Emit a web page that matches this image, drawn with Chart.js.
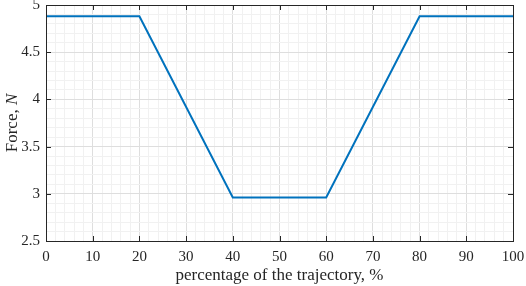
<!DOCTYPE html>
<html>
<head>
<meta charset="UTF-8">
<style>
  html, body { margin: 0; padding: 0; background: #fff; }
  #wrap { width: 526px; height: 286px; }
</style>
</head>
<body>
<div id="wrap"><canvas id="chart" width="526" height="286"></canvas></div>
<script src="https://cdn.jsdelivr.net/npm/chart.js"></script>
<script>
// data
const trajX = [0, 20, 40, 60, 80, 100];
const forceY = [4.88, 4.88, 2.96, 2.96, 4.88, 4.88];
const xTicks = [0, 10, 20, 30, 40, 50, 60, 70, 80, 90, 100];
const yTicks = [2.5, 3, 3.5, 4, 4.5, 5];

const FONT = '"Liberation Serif", "Times New Roman", serif';
const AXIS = '#262626';

function isMajor(v, step) {
  const r = v / step;
  return Math.abs(r - Math.round(r)) < 1e-6;
}

// box + inward ticks + y title with italic N
const matlabBox = {
  id: 'matlabBox',
  afterDraw(chart) {
    const c = chart.ctx, a = chart.chartArea;
    const xs = chart.scales.x, ys = chart.scales.y;
    c.save();
    c.strokeStyle = AXIS;
    c.lineWidth = 1;
    c.strokeRect(Math.round(a.left) + 0.5, Math.round(a.top) + 0.5,
      Math.round(a.right - a.left), Math.round(a.bottom - a.top));
    c.beginPath();
    xTicks.forEach(v => {
      const px = Math.round(xs.getPixelForValue(v)) + 0.5;
      c.moveTo(px, a.bottom); c.lineTo(px, a.bottom - 5);
      c.moveTo(px, a.top); c.lineTo(px, a.top + 5);
    });
    yTicks.forEach(v => {
      const py = Math.round(ys.getPixelForValue(v)) + 0.5;
      c.moveTo(a.left, py); c.lineTo(a.left + 5, py);
      c.moveTo(a.right, py); c.lineTo(a.right - 5, py);
    });
    c.stroke();

    // y axis title
    c.translate(13, (a.top + a.bottom) / 2);
    c.rotate(-Math.PI / 2);
    c.fillStyle = AXIS;
    c.textBaseline = 'middle';
    const p1 = 'Force, ';
    c.font = '17px ' + FONT;
    const w1 = c.measureText(p1).width;
    c.font = 'italic 17px ' + FONT;
    const w2 = c.measureText('N').width;
    let x0 = -(w1 + w2) / 2;
    c.textAlign = 'left';
    c.font = '17px ' + FONT;
    c.fillText(p1, x0, 0);
    c.font = 'italic 17px ' + FONT;
    c.fillText('N', x0 + w1, 0);
    c.restore();
  }
};

new Chart(document.getElementById('chart'), {
  type: 'line',
  data: {
    datasets: [{
      data: trajX.map((x, i) => ({ x: x, y: forceY[i] })),
      borderColor: '#0072BD',
      borderWidth: 2,
      pointRadius: 0,
      tension: 0,
      fill: false
    }]
  },
  options: {
    responsive: false,
    animation: false,
    layout: { padding: { top: 5, right: 13, left: 0, bottom: 0 } },
    plugins: { legend: { display: false }, tooltip: { enabled: false } },
    scales: {
      x: {
        type: 'linear',
        min: 0, max: 100,
        afterFit(s) { s.height = 45; s.paddingLeft = 0; s.paddingRight = 0; },
        border: { display: false },
        grid: {
          drawTicks: false,
          color: ctx => isMajor(ctx.tick.value, 10) ? '#dedede' : '#f1f1f1',
          lineWidth: 1
        },
        ticks: {
          stepSize: 2,
          autoSkip: false,
          maxRotation: 0,
          padding: 7,
          color: AXIS,
          font: { family: FONT, size: 15 },
          callback: v => isMajor(v, 10) ? String(Math.round(v)) : ''
        },
        title: {
          display: true,
          text: 'percentage of the trajectory, %',
          color: AXIS,
          font: { family: FONT, size: 17 },
          padding: { top: 0, bottom: 0 }
        }
      },
      y: {
        min: 2.5, max: 5,
        afterFit(s) { s.width = 46; s.paddingTop = 0; s.paddingBottom = 0; },
        border: { display: false },
        grid: {
          drawTicks: false,
          color: ctx => isMajor(ctx.tick.value, 0.5) ? '#dedede' : '#f1f1f1',
          lineWidth: 1
        },
        ticks: {
          stepSize: 0.1,
          autoSkip: false,
          padding: 6,
          color: AXIS,
          font: { family: FONT, size: 15 },
          callback: v => isMajor(v, 0.5) ? String(Math.round(v * 10) / 10) : ''
        }
      }
    }
  },
  plugins: [matlabBox]
});
</script>
</body>
</html>
